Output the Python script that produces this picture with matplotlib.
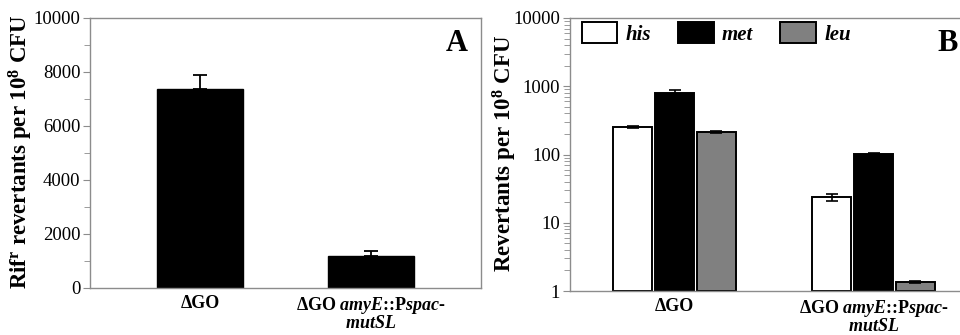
import numpy as np
import matplotlib
matplotlib.use('Agg')
import matplotlib.pyplot as plt

plt.rcParams['font.family'] = 'Liberation Serif'
plt.rcParams['mathtext.fontset'] = 'custom'
plt.rcParams['mathtext.rm'] = 'Liberation Serif:bold'
plt.rcParams['mathtext.it'] = 'Liberation Serif:bold:italic'

# data
strains = ['ΔGO', r'ΔGO $\mathit{amyE}$::P$\mathit{spac}$-' + '\n' + r'$\mathit{mutSL}$']
rif_values = [7380, 1185]
rif_errors = [520, 195]

markers = ['his', 'met', 'leu']
rev_values = {'his': [251, 23.7], 'met': [794, 101], 'leu': [215, 1.34]}
rev_errors = {'his': [8, 3.0], 'met': [80, 3], 'leu': [6, 0.05]}
colors = {'his': 'white', 'met': 'black', 'leu': '#808080'}

spine_col = '#8c8c8c'

fig = plt.figure(figsize=(9.6, 3.35), dpi=100)

# panel A
axA = fig.add_axes([90/960, 47/335, 391/960, 270/335])
x = np.arange(len(strains))
axA.bar(x, rif_values, width=0.5, color='black', edgecolor='black')
axA.errorbar(x, rif_values, yerr=[[0, 0], rif_errors], fmt='none', ecolor='black',
             elinewidth=1.3, capsize=5, capthick=1.3)
axA.set_xlim(-0.643, 1.643)
axA.set_ylim(0, 10000)
axA.set_yticks(np.arange(0, 10001, 2000))
axA.set_yticks(np.arange(0, 10001, 1000), minor=True)
axA.set_xticks(x)
axA.set_xticklabels(strains, fontweight='bold', fontsize=13, linespacing=0.95)
axA.set_ylabel(r'Rif$^{\rm r}$ revertants per 10$^{\rm 8}$ CFU', fontweight='bold', fontsize=16.5)
axA.yaxis.set_label_coords(-0.14, 0.505)
axA.text(0.965, 0.96, 'A', transform=axA.transAxes, ha='right', va='top',
         fontsize=22, fontweight='bold')

# panel B
axB = fig.add_axes([570/960, 44/335, 392/960, 273/335])
xb = np.arange(len(strains))
width = 0.194
offs = [-0.21, 0, 0.21]
for m, o in zip(markers, offs):
    axB.bar(xb + o, np.array(rev_values[m]) - 1, bottom=1, width=width,
            color=colors[m], edgecolor='black', linewidth=1.4, label=m)
    axB.errorbar(xb + o, rev_values[m], yerr=rev_errors[m], fmt='none', ecolor='black',
                 elinewidth=1.2, capsize=4, capthick=1.2)
axB.set_yscale('log')
axB.set_ylim(1, 10000)
axB.set_xlim(-0.525, 1.444)
axB.set_yticks([1, 10, 100, 1000, 10000])
axB.set_yticklabels(['1', '10', '100', '1000', '10000'])
axB.set_xticks(xb)
axB.set_xticklabels(strains, fontweight='bold', fontsize=13, linespacing=0.95)
axB.set_ylabel(r'Revertants per 10$^{\rm 8}$ CFU', fontweight='bold', fontsize=16.5)
axB.yaxis.set_label_coords(-0.13, 0.505)
axB.text(0.99, 0.96, 'B', transform=axB.transAxes, ha='right', va='top',
         fontsize=22, fontweight='bold')
leg = axB.legend(loc='upper left', bbox_to_anchor=(0.02, 1.0), ncol=3, frameon=False,
                 prop={'weight': 'bold', 'style': 'italic', 'size': 15},
                 handlelength=1.7, handleheight=1.15, columnspacing=1.3, handletextpad=0.4,
                 borderaxespad=0.1, borderpad=0.1)

for ax in (axA, axB):
    for s in ax.spines.values():
        s.set_color(spine_col)
        s.set_linewidth(1.0)
    ax.tick_params(axis='y', which='both', direction='out', color=spine_col, labelsize=13.5, pad=2)
    ax.tick_params(axis='y', which='major', length=5)
    ax.tick_params(axis='y', which='minor', length=4)
    ax.tick_params(axis='x', which='both', length=0, pad=5)

plt.savefig('out.png', dpi=100)
